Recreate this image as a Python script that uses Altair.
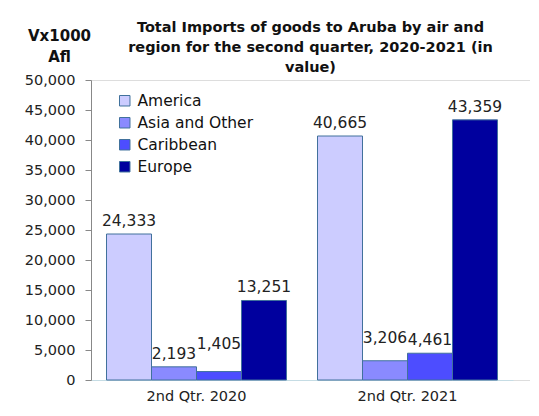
import altair as alt
import pandas as pd

quarters = ["2nd Qtr. 2020", "2nd Qtr. 2021"]
regions = ["America", "Asia and Other", "Caribbean", "Europe"]
values_2020 = [24333, 2193, 1405, 13251]
values_2021 = [40665, 3206, 4461, 43359]
colors = ["#CCCCFF", "#8A8AFF", "#4D4DFF", "#00009E"]

rows = []
for q, vals in zip(quarters, [values_2020, values_2021]):
    for r, v in zip(regions, vals):
        rows.append({"quarter": q, "region": r, "value": v,
                     "label": f"{v:,}"})
df = pd.DataFrame(rows)

FONT = "DejaVu Sans"

x_enc = alt.X("quarter:N", sort=quarters,
              scale=alt.Scale(range=[0, 422], paddingInner=0.147, paddingOuter=0.0735),
              axis=alt.Axis(title=None, labelAngle=0, ticks=False, domainColor="#C5DCE4",
                            labelFontSize=14.5, labelColor="#222222", labelFont=FONT,
                            labelPadding=9))
xoff = alt.XOffset("region:N", sort=regions, scale=alt.Scale(paddingInner=0, paddingOuter=0))
y_enc = alt.Y("value:Q", scale=alt.Scale(domain=[0, 50000]),
              axis=alt.Axis(title=["Vx1000", "Afl"], titleAngle=0, titleAlign="center",
                            titleBaseline="middle", titleX=-32, titleY=-45,
                            titleFontSize=15, titleFont=FONT, titleFontWeight="bold",
                            titleColor="#111111", titleLineHeight=21,
                            values=list(range(0, 50001, 5000)), format=",.0f",
                            grid=False, domainColor="#888888", tickColor="#888888",
                            tickSize=6, labelFontSize=14.5, labelColor="#222222",
                            labelFont=FONT, labelPadding=10))

base = alt.Chart(df).encode(x=x_enc, xOffset=xoff, y=y_enc)

bars = base.mark_bar(stroke="#41719C", strokeWidth=1).encode(
    color=alt.Color("region:N", sort=regions,
                    scale=alt.Scale(domain=regions, range=colors),
                    legend=alt.Legend(title=None, orient="none", legendX=26, legendY=13,
                                      symbolType="square", symbolSize=110,
                                      symbolStrokeColor="#41719C", symbolStrokeWidth=1,
                                      labelFontSize=15.5, labelFont=FONT, labelColor="#111111",
                                      rowPadding=5, labelOffset=5))
)

bumped = {("2nd Qtr. 2020", "Caribbean"): -28, ("2nd Qtr. 2021", "Asia and Other"): -23}
normal_filter = " && ".join(
    [f"!(datum.quarter == '{q}' && datum.region == '{r}')" for (q, r) in bumped])
labels = [base.mark_text(baseline="middle", dy=-13, fontSize=15.5, font=FONT,
                         color="#222222").encode(text="label:N")
          .transform_filter(normal_filter)]
for (q, r), d in bumped.items():
    labels.append(base.mark_text(baseline="middle", dy=d, fontSize=15.5, font=FONT,
                                 color="#222222").encode(text="label:N")
                  .transform_filter(f"datum.quarter == '{q}' && datum.region == '{r}'"))

chart = alt.layer(bars, *labels).properties(
    width=439, height=300,
    title=alt.Title(["Total Imports of goods to Aruba by air and",
                     "region for the second quarter, 2020-2021 (in", "value)"],
                    font=FONT, fontSize=14.5, fontWeight="bold", color="#111111",
                    lineHeight=20, anchor="middle", offset=4, dy=51),
    autosize=alt.AutoSizeParams(type="none"),
    padding={"left": 83, "top": 72, "right": 0, "bottom": 26},
).configure_view(fill="#DAEEF3", stroke=None).configure(background="white")

chart.save("out.html", embed_options={"renderer": "svg", "actions": False})
